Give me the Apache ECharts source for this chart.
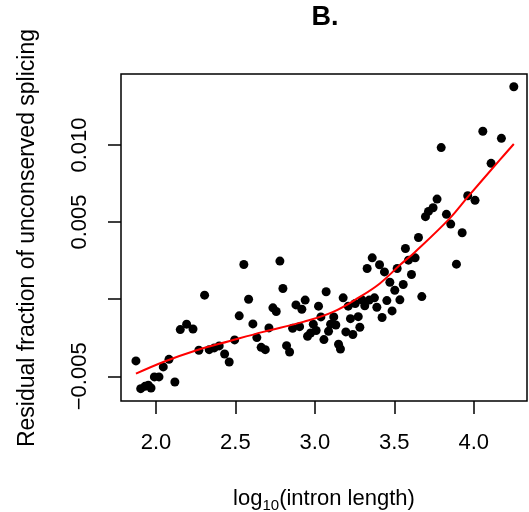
<!DOCTYPE html>
<html><head><meta charset="utf-8">
<script src="https://cdn.jsdelivr.net/npm/echarts@6/dist/echarts.min.js"></script>
<style>html,body{margin:0;padding:0;background:#fff}#c{width:529px;height:512px}</style>
</head><body><div id="c"></div>
<script>
const logLen = [1.874,1.904,1.931,1.952,1.969,1.990,2.019,2.046,2.082,2.119,2.153,2.193,2.233,2.270,2.306,2.335,2.367,2.398,2.432,2.461,2.495,2.524,2.553,2.583,2.610,2.635,2.662,2.688,2.711,2.736,2.757,2.780,2.799,2.822,2.841,2.860,2.881,2.904,2.918,2.939,2.954,2.973,2.990,3.008,3.023,3.038,3.057,3.071,3.086,3.099,3.119,3.132,3.149,3.161,3.178,3.195,3.210,3.224,3.239,3.254,3.273,3.283,3.298,3.314,3.329,3.342,3.361,3.375,3.390,3.407,3.423,3.438,3.453,3.472,3.486,3.503,3.518,3.535,3.556,3.570,3.589,3.608,3.631,3.652,3.673,3.696,3.715,3.744,3.769,3.795,3.828,3.855,3.891,3.927,3.962,4.008,4.057,4.109,4.174,4.252];
const residual = [-0.00400,-0.00580,-0.00565,-0.00558,-0.00576,-0.00504,-0.00504,-0.00439,-0.00390,-0.00537,-0.00197,-0.00162,-0.00193,-0.00331,0.00026,-0.00327,-0.00316,-0.00303,-0.00355,-0.00407,-0.00264,-0.00108,0.00225,0.00000,-0.00160,-0.00249,-0.00312,-0.00327,-0.00186,-0.00056,-0.00080,0.00247,0.00069,-0.00301,-0.00342,-0.00188,-0.00037,-0.00178,-0.00065,-0.00006,-0.00240,-0.00219,-0.00162,-0.00203,-0.00045,-0.00115,-0.00262,0.00048,-0.00208,-0.00162,-0.00115,-0.00167,-0.00292,-0.00323,0.00009,-0.00212,-0.00045,-0.00126,-0.00229,-0.00028,-0.00113,-0.00182,-0.00006,-0.00043,0.00199,-0.00006,0.00268,0.00009,-0.00052,0.00223,-0.00119,0.00177,-0.00009,0.00110,-0.00076,0.00058,0.00199,-0.00004,0.00095,0.00329,0.00253,0.00160,0.00268,0.00400,0.00017,0.00535,0.00569,0.00593,0.00649,0.00983,0.00550,0.00487,0.00227,0.00431,0.00671,0.00641,0.01089,0.00881,0.01043,0.01377];
const fitX = [1.874,2.046,2.256,2.465,2.675,2.927,3.115,3.283,3.409,3.535,3.629,3.849,3.964,4.164,4.252];
const fitY = [-0.00483,-0.00407,-0.00331,-0.00271,-0.00212,-0.00147,-0.00082,0.00015,0.00102,0.00221,0.00305,0.00524,0.00665,0.00903,0.01006];
const xTicks = [2.0,2.5,3.0,3.5,4.0];
const yTicks = [-0.005,0,0.005,0.010];
const yTickLabels = [-0.005,0.005,0.010];

const FONT = '"Liberation Sans", Arial, Helvetica, sans-serif';
const chart = echarts.init(document.getElementById('c'), null, {renderer:'canvas'});
const option = {
  animation:false,
  backgroundColor:'#fff',
  grid:{left:121, top:74, width:406, height:327, show:true, borderColor:'#000', borderWidth:1.5, backgroundColor:'transparent'},
  xAxis:{type:'value', min:1.780, max:4.335,
    axisLine:{show:false, onZero:false}, splitLine:{show:false},
    axisTick:{show:true, length:13, lineStyle:{color:'#000', width:1.5}, customValues:xTicks},
    axisLabel:{customValues:xTicks, margin:31, fontSize:22, fontFamily:FONT, color:'#000', formatter:v=>v.toFixed(1)}},
  yAxis:{type:'value', min:-0.0066, max:0.0146,
    axisLine:{show:false, onZero:false}, splitLine:{show:false},
    axisTick:{show:true, length:13, lineStyle:{color:'#000', width:1.5}, customValues:yTicks},
    axisLabel:{customValues:yTickLabels, rotate:90, margin:30, fontSize:22, fontFamily:FONT, color:'#000',
      formatter:v=>(v<0?'\u2212':'')+Math.abs(v).toFixed(3)}},
  series:[
    {type:'scatter', data:logLen.map((x,i)=>[x,residual[i]]), symbol:'circle', symbolSize:9, itemStyle:{color:'#000', opacity:1}, z:2},
    {type:'line', data:fitX.map((x,i)=>[x,fitY[i]]), smooth:0.4, showSymbol:false, symbol:'none', lineStyle:{color:'#ff0000', width:2}, z:3}
  ],
  graphic:[
    {type:'text', x:325, y:18, style:{text:'B.', font:'bold 27px '+FONT, fill:'#000', align:'center', verticalAlign:'middle', textAlign:'center', textVerticalAlign:'middle'}},
    {type:'text', x:28, y:238, rotation:Math.PI/2, style:{text:'Residual fraction of unconserved splicing', font:'23px '+FONT, fill:'#000', align:'center', verticalAlign:'middle', textAlign:'center', textVerticalAlign:'middle'}},
    {type:'text', x:324, y:499, style:{text:'{m|log}{s|10}{m|(intron length)}', fill:'#000', align:'center', verticalAlign:'middle', textAlign:'center', textVerticalAlign:'middle',
      rich:{m:{fontSize:22, fontFamily:FONT, lineHeight:28, fill:'#000'}, s:{fontSize:15, fontFamily:FONT, lineHeight:15, verticalAlign:'bottom', fill:'#000'}}}}
  ]
};
chart.setOption(option);
</script></body></html>
